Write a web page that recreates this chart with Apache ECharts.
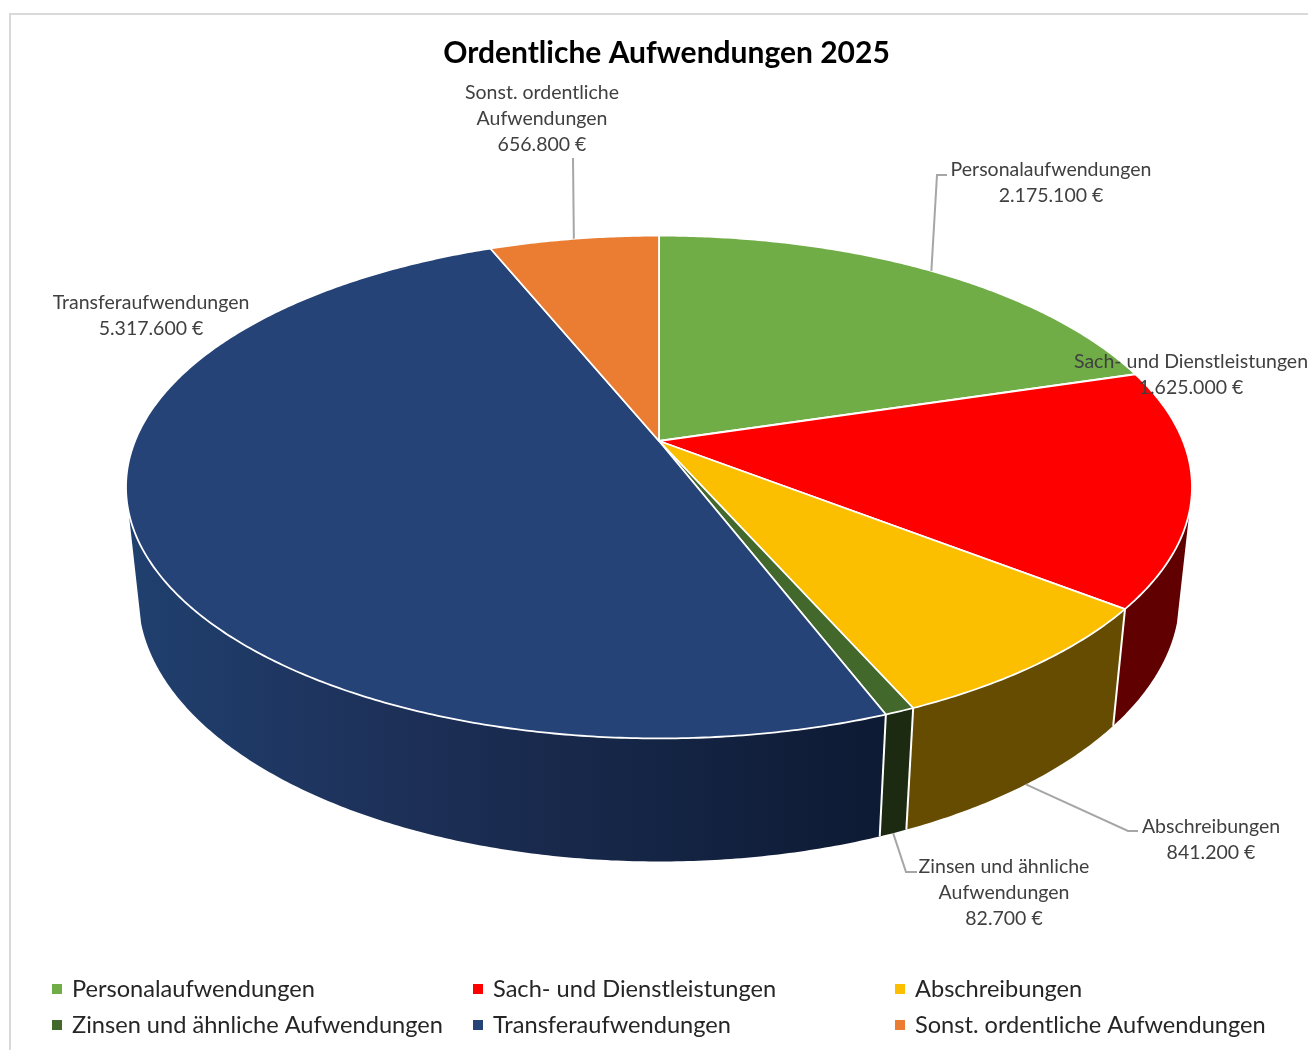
<!DOCTYPE html>
<html>
<head>
<meta charset="utf-8">
<title>Ordentliche Aufwendungen 2025</title>
<script src="https://cdn.jsdelivr.net/npm/echarts@6/dist/echarts.min.js"></script>
<style>
  html, body { margin: 0; padding: 0; background: #fff; }
  #chart { width: 1308px; height: 1050px; }
</style>
</head>
<body>
<div id="chart"></div>
<script>
const categories = [
  'Personalaufwendungen',
  'Sach- und Dienstleistungen',
  'Abschreibungen',
  'Zinsen und ähnliche Aufwendungen',
  'Transferaufwendungen',
  'Sonst. ordentliche Aufwendungen'
];
const values = [2175100, 1625000, 841200, 82700, 5317600, 656800];
const labelNames = [
  'Personalaufwendungen',
  'Sach- und Dienstleistungen',
  'Abschreibungen',
  'Zinsen und ähnliche\nAufwendungen',
  'Transferaufwendungen',
  'Sonst. ordentliche\nAufwendungen'
];

const topColors = ['#70ad47', '#ff0000', '#fbbf00', '#43682b', '#254377', '#ea7d31'];
const wallColors = ['#2f4a1d', '#600000', '#654c00', '#1b2a10', null, '#5e3213'];

// centre of the label's first line, elbow of the leader (no line = no leader)
const labelLayout = [
  { x: 1051, y: 157, line: [[947, 175], [937, 175]], depth: 0 },
  { x: 1191, y: 349 },
  { x: 1211, y: 814, line: [[1138, 831], [1128, 831]], depth: 1 },
  { x: 1004, y: 854, line: [[917, 872], [906, 872]], depth: 1 },
  { x: 151, y: 290 },
  { x: 542, y: 80, line: [[573, 158]], depth: 0 }
];

// the pie is a tilted disc: perspective projection of a unit circle
const view = { cx: 659, cy: 441, a: 524, b: 243, p: 0.183, q: 0.023, r: 110.2 };
// part of the rim that faces the viewer, in degrees clockwise from 12 o'clock
const frontFrom = 106;
const frontTo = 254;
const fontFamily = 'Lato, "Noto Sans", sans-serif';

const total = values.reduce((s, v) => s + v, 0);

function project(deg, depth) {
  const t = deg * Math.PI / 180;
  const X = Math.sin(t);
  const Y = Math.cos(t);
  const w = 1 + view.p * Y + view.q * depth;
  return [
    view.cx + view.a * X / w,
    view.cy + (-view.b * Y + view.r * depth) / w
  ];
}

function arc(from, to, depth) {
  const pts = [];
  const steps = Math.max(2, Math.ceil((to - from) * 2));
  for (let i = 0; i <= steps; i++) {
    pts.push(project(from + (to - from) * i / steps, depth));
  }
  return pts;
}

function formatEuro(v) {
  return String(v).replace(/\B(?=(\d{3})+$)/g, '.') + ' €';
}

function wallFill(i) {
  if (wallColors[i]) return wallColors[i];
  // lighter on the left, nearly black at the front
  return new echarts.graphic.LinearGradient(1, 0, 0, 0, [
    { offset: 0, color: '#0d1a33' },
    { offset: 0.65, color: '#1d3058' },
    { offset: 1, color: '#20406f' }
  ]);
}

function renderSlice(i, api) {
  const before = values.slice(0, i).reduce((s, v) => s + v, 0);
  const start = before / total * 360;
  const end = start + api.value(0) / total * 360;
  const mid = (start + end) / 2;
  const children = [];

  // outer wall, only the part that faces the viewer
  const wallStart = Math.max(start, frontFrom);
  const wallEnd = Math.min(end, frontTo);
  if (wallEnd > wallStart) {
    children.push({
      type: 'polygon',
      z2: 1,
      shape: { points: arc(wallStart, wallEnd, 0).concat(arc(wallStart, wallEnd, 1).reverse()) },
      style: { fill: wallFill(i) }
    });
  }
  if (end > frontFrom && end < frontTo) {
    children.push({
      type: 'polyline',
      z2: 2,
      shape: { points: [project(end, 0), project(end, 1)] },
      style: { stroke: '#fff', lineWidth: 2, fill: null }
    });
  }

  // top face
  children.push({
    type: 'polygon',
    z2: 3,
    shape: { points: [[view.cx, view.cy]].concat(arc(start, end, 0)) },
    style: { fill: topColors[i], stroke: '#fff', lineWidth: 1.8, lineJoin: 'round' }
  });

  const layout = labelLayout[i];
  if (layout.line) {
    children.push({
      type: 'polyline',
      z2: 4,
      shape: { points: layout.line.concat([project(mid, layout.depth)]) },
      style: { stroke: '#a6a6a6', lineWidth: 2, fill: null }
    });
  }
  children.push({
    type: 'text',
    z2: 5,
    x: layout.x,
    y: layout.y,
    style: {
      text: labelNames[i] + '\n' + formatEuro(api.value(0)),
      fill: '#404040',
      fontFamily: fontFamily,
      fontSize: 19.5,
      lineHeight: 26,
      align: 'center',
      verticalAlign: 'top'
    }
  });

  return { type: 'group', children: children };
}

function legendColumn(names, left) {
  return {
    orient: 'vertical',
    left: left,
    top: 975,
    padding: 0,
    itemGap: 8,
    itemWidth: 10,
    itemHeight: 10,
    icon: 'rect',
    selectedMode: false,
    data: names,
    textStyle: { color: '#262626', fontFamily: fontFamily, fontSize: 23.6, lineHeight: 28, padding: [0, 0, 0, 5] }
  };
}

const chart = echarts.init(document.getElementById('chart'), null, { renderer: 'canvas' });

chart.setOption({
  backgroundColor: '#fff',
  animation: false,
  title: {
    text: 'Ordentliche Aufwendungen 2025',
    left: 661.5,
    top: 33,
    textAlign: 'center',
    textStyle: { color: '#000', fontFamily: fontFamily, fontWeight: 'bold', fontSize: 30 }
  },
  legend: [
    legendColumn([categories[0], categories[3]], 52),
    legendColumn([categories[1], categories[4]], 473),
    legendColumn([categories[2], categories[5]], 895)
  ],
  graphic: [{
    type: 'polyline',
    silent: true,
    shape: { points: [[10, 1050], [10, 14], [1308, 14]] },
    style: { stroke: '#d9d9d9', lineWidth: 2, fill: null }
  }],
  series: categories.map((name, i) => ({
    name: name,
    type: 'custom',
    coordinateSystem: 'none',
    silent: true,
    itemStyle: { color: topColors[i] },
    renderItem: (params, api) => renderSlice(i, api),
    data: [[values[i]]]
  }))
});

window.addEventListener('resize', () => chart.resize());
</script>
</body>
</html>
